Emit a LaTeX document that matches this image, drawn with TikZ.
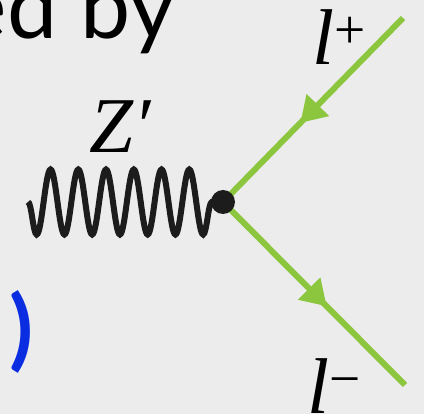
\documentclass[tikz,border=0pt]{standalone}
\usepackage{fontspec}
\usetikzlibrary{positioning, arrows.meta, decorations.markings, decorations.pathmorphing}
\newfontfamily\slidefont{Lato}
\newfontfamily\labfont{Liberation Serif}
\definecolor{FDgreen}{RGB}{140, 198, 63}
\definecolor{FDblue}{RGB}{10, 45, 225}
\definecolor{FDback}{RGB}{236, 236, 236}
\definecolor{FDblack}{RGB}{28, 28, 28}

\begin{document}
\begin{tikzpicture}[
		lepton/.style={draw=FDgreen, line width=1.2mm, postaction={decorate},
			decoration={markings, mark=at position 0.57 with {\arrow[FDgreen]{Triangle[length=5mm, width=6mm]}}}},
		boson/.style={draw=FDblack, line width=1.2mm, decorate,
			decoration={snake, mirror, segment length=5.55mm, amplitude=6.5mm}},
		biglabel/.style={font=\labfont\itshape\fontsize{45}{50}\selectfont, inner sep=0pt},
	]
		
		% Frame
		\useasboundingbox (0,0) rectangle (8.48,8.28);
		\fill[FDback] (0,0) rectangle (8.48,8.28);
		\clip (0,0) rectangle (8.48,8.28);
		
		% Slide text
		\node[anchor=base east, inner sep=0pt, font=\slidefont\fontsize{51}{55}\selectfont] (slidetxt) at (3.52,7.5) {ed by};
		\node[inner sep=0pt, text=FDblue, font=\slidefont\bfseries\fontsize{50}{54}\selectfont] (paren) at (0.44,1.64) {)};
		
		% Vertex and lines
		\coordinate (v) at (4.46,4.24);
		\coordinate (zl) at (0.56,4.24);
		\coordinate (lp) at (8.06,7.92);
		\coordinate (lm) at (8.10,0.58);
		\draw[boson] (zl) -- (v);
		\draw[lepton] (lp) -- (v);
		\draw[lepton] (v) -- (lm);
		\node[shape=circle, fill=FDblack, inner sep=0pt, minimum size=4.8mm] (vtx) at (v) {};
		
		% Labels
		\node[biglabel] (zlab) at (2.4,5.74) {Z′};
		\node[biglabel] (lplab) at (6.8,7.54) {l\textsuperscript{\upshape +}};
		\node[biglabel] (lmlab) at (6.7,0.56) {l\textsuperscript{\upshape −}};
	\end{tikzpicture}
\end{document}
